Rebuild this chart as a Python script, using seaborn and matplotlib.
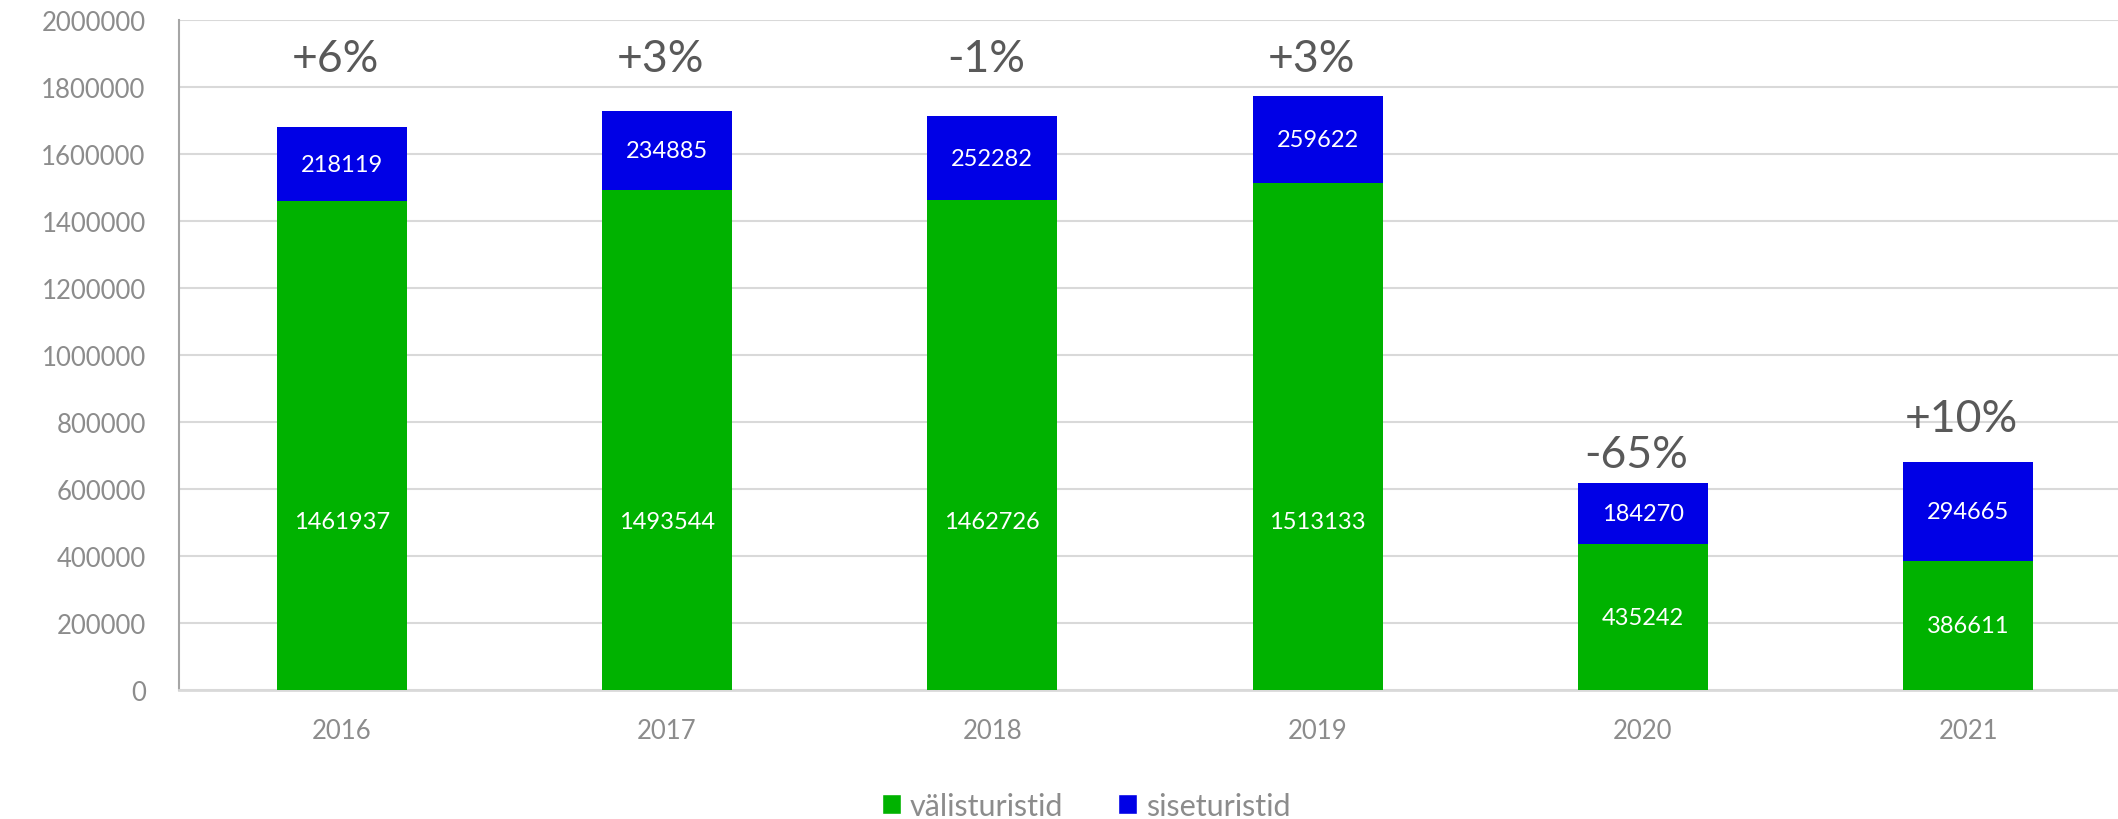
import pandas as pd
import seaborn as sns
import matplotlib.pyplot as plt
from matplotlib.patches import Patch

# andmed
years = ["2016", "2017", "2018", "2019", "2020", "2021"]
valis = [1461937, 1493544, 1462726, 1513133, 435242, 386611]
sise = [218119, 234885, 252282, 259622, 184270, 294665]
muutus = ["+6%", "+3%", "-1%", "+3%", "-65%", "+10%"]

GREEN = "#00B200"
BLUE = "#0000E6"

df = pd.DataFrame({"aasta": years, "valis": valis, "sise": sise})
df["kokku"] = df["valis"] + df["sise"]

sns.set_theme(style="white")
plt.rcParams["font.family"] = ["Lato", "DejaVu Sans"]

fig = plt.figure(figsize=(21.18, 8.2), dpi=100)
ax = fig.add_axes([0.0845, 0.157, 0.9216, 0.817])

# kogusumma sinisena, roheline peale
sns.barplot(data=df, x="aasta", y="kokku", color=BLUE, width=0.4, saturation=1,
            linewidth=0, ax=ax, zorder=2)
sns.barplot(data=df, x="aasta", y="valis", color=GREEN, width=0.4, saturation=1,
            linewidth=0, ax=ax, zorder=3)

ax.set_ylim(0, 2000000)
ax.set_xlim(-0.5, 5.5)
ax.set_yticks(range(0, 2000001, 200000))
ax.set_yticklabels([str(v) for v in range(0, 2000001, 200000)])
ax.yaxis.grid(True, color="#D9D9D9", linewidth=1.5, zorder=0)
ax.set_axisbelow(True)
ax.set_xlabel("")
ax.set_ylabel("")
ax.tick_params(axis="both", colors="#8C8C8C", labelsize=18.5, length=0)
ax.tick_params(axis="y", pad=24)
ax.tick_params(axis="x", pad=20)

for s in ["top", "right"]:
    ax.spines[s].set_visible(False)
ax.spines["left"].set_color("#A6A6A6")
ax.spines["left"].set_linewidth(1.5)
ax.spines["bottom"].set_color("#D9D9D9")
ax.spines["bottom"].set_linewidth(2)

# väärtuste sildid
for i in range(len(years)):
    gy = min(valis[i] / 2, 505000)
    ax.text(i, gy, str(valis[i]), ha="center", va="center", color="white", fontsize=17, zorder=5)
    ax.text(i, valis[i] + sise[i] / 2, str(sise[i]), ha="center", va="center", color="white", fontsize=17, zorder=5)

# muutuse protsendid
pct_y = [1885000, 1885000, 1885000, 1885000, 705000, 812000]
for i in range(len(years)):
    ax.text(i - 0.02, pct_y[i], muutus[i], ha="center", va="center", color="#595959", fontsize=32, zorder=5)

handles = [Patch(facecolor=GREEN, label="välisturistid"), Patch(facecolor=BLUE, label="siseturistid")]
fig.legend(handles=handles, loc="center", bbox_to_anchor=(0.513, 0.016), ncol=2, frameon=False,
           fontsize=22, labelcolor="#8C8C8C", handlelength=0.6, handleheight=0.6, handletextpad=0.3,
           columnspacing=1.8)

fig.savefig("out.png", dpi=100)
